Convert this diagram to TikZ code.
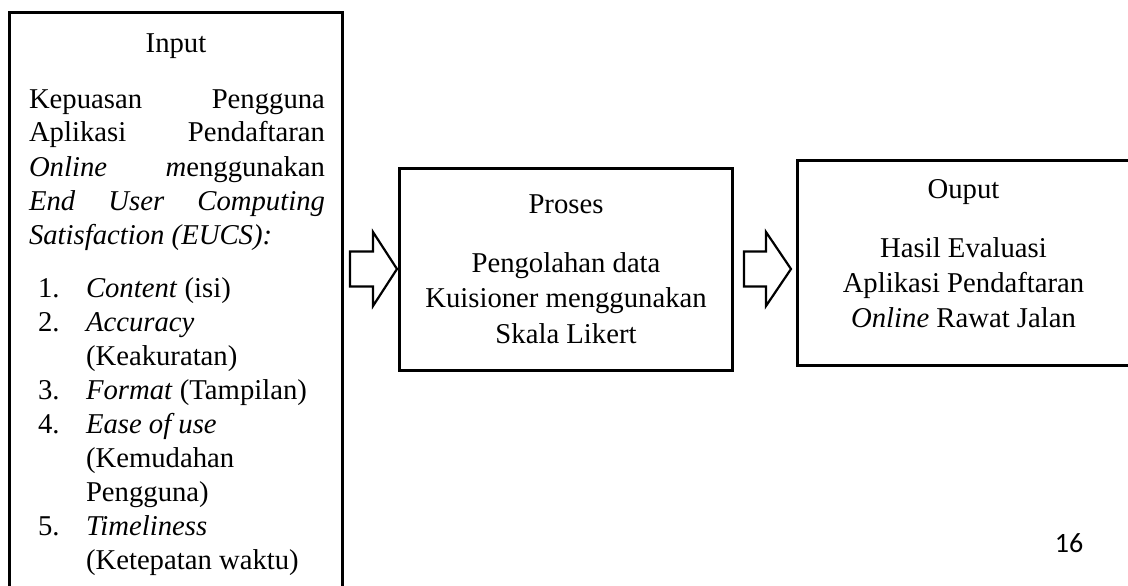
\documentclass[tikz,border=0pt]{standalone}
\usepackage{fontspec}
\setmainfont{Liberation Serif}
\newfontfamily\calib{Carlito}
\begin{document}
\begin{tikzpicture}[x=1pt,y=-1pt,
  txt/.style={inner sep=0pt, outer sep=0pt, anchor=base, font=\fontsize{28.7}{34}\selectfont},
  txtl/.style={txt, anchor=base west},
  boxst/.style={draw, line width=3pt, inner sep=0pt, minimum width=333pt},
  blk/.style={draw, line width=2.2pt, fill=white, line join=miter}]
\useasboundingbox (0,0) rectangle (1128,586);
\clip (0,0) rectangle (1128,586);
% boxes
\node[boxst, minimum height=607pt] (inbox) at (176,316.5) {};
\node[boxst, minimum height=202pt] (procbox) at (566,269.5) {};
\node[boxst, minimum height=205pt] (outbox) at (963.5,262.5) {};
% input box text
\node[txt] (intitle) at (176,53) {Input};
\node[txtl] (l1) at (29,108) {\makebox[296pt][s]{Kepuasan Pengguna}};
\node[txtl] (l2) at (29,142) {\makebox[296pt][s]{Aplikasi Pendaftaran}};
\node[txtl] (l3) at (29,176) {\makebox[296pt][s]{\textit{Online} \textit{m}enggunakan}};
\node[txtl] (l4) at (29,210) {\makebox[296pt][s]{\textit{End User Computing}}};
\node[txtl] (l5) at (29,244) {\textit{Satisfaction (EUCS):}};
\node[txtl] (n1) at (38,297) {1.};
\node[txtl] (i1) at (86,297) {\textit{Content} (isi)};
\node[txtl] (n2) at (38,331) {2.};
\node[txtl] (i2a) at (86,331) {\textit{Accuracy}};
\node[txtl] (i2b) at (86,365) {(Keakuratan)};
\node[txtl] (n3) at (38,399) {3.};
\node[txtl] (i3) at (86,399) {\textit{Format} (Tampilan)};
\node[txtl] (n4) at (38,433) {4.};
\node[txtl] (i4a) at (86,433) {\textit{Ease of use}};
\node[txtl] (i4b) at (86,467) {(Kemudahan};
\node[txtl] (i4c) at (86,501) {Pengguna)};
\node[txtl] (n5) at (38,535) {5.};
\node[txtl] (i5a) at (86,535) {\textit{Timeliness}};
\node[txtl] (i5b) at (86,569) {(Ketepatan waktu)};
% process box text
\node[txt] (ptitle) at (566,213) {Proses};
\node[txt] (p1) at (566,272) {Pengolahan data};
\node[txt] (p2) at (566,307.5) {Kuisioner menggunakan};
\node[txt] (p3) at (566,343) {Skala Likert};
% output box text
\node[txt] (otitle) at (963.5,198) {Ouput};
\node[txt] (o1) at (963.5,257) {Hasil Evaluasi};
\node[txt] (o2) at (963.5,292) {Aplikasi Pendaftaran};
\node[txt] (o3) at (963.5,327) {\textit{Online} Rawat Jalan};
% block arrows
\coordinate (a1) at (350,269);
\coordinate (a2) at (744,269);
\draw[blk] (a1) ++(0,-17.5) -- ++(23,0) -- ++(0,-19.5) -- ++(24,37) -- ++(-24,37) -- ++(0,-19.5) -- ++(-23,0) -- cycle;
\draw[blk] (a2) ++(0,-17.5) -- ++(22,0) -- ++(0,-19.5) -- ++(25,37) -- ++(-25,37) -- ++(0,-19.5) -- ++(-22,0) -- cycle;
% page number
\node[inner sep=0pt, anchor=base, font=\calib\fontsize{28}{30}\selectfont] (pg) at (1069,552) {16};
\end{tikzpicture}
\end{document}
